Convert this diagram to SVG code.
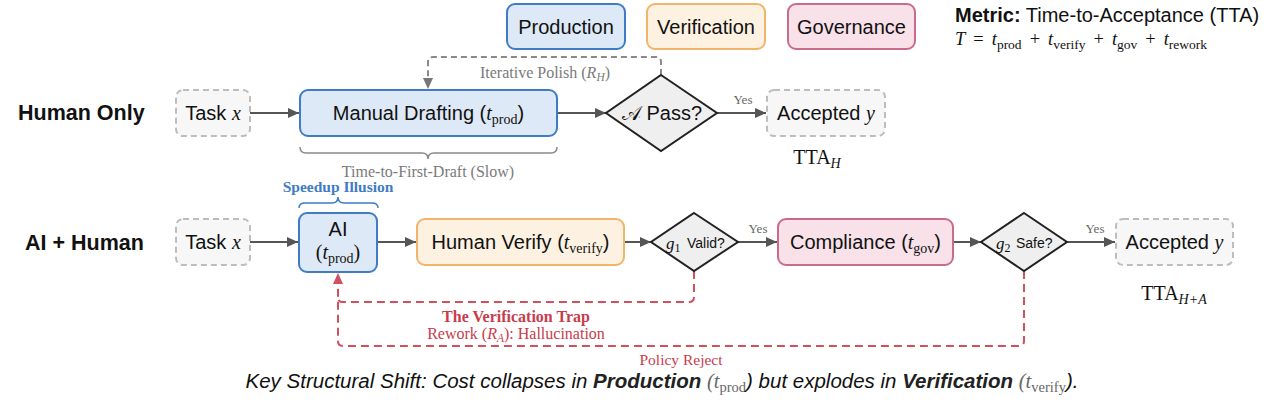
<svg xmlns="http://www.w3.org/2000/svg" width="1280" height="412" viewBox="0 0 1280 412">
<defs>
<style>
.sans{font-family:"Liberation Sans",Arial,Helvetica,sans-serif;fill:#111}
.lbl{font-size:20px}
.hdr{font-size:21.5px;font-weight:bold}
.ser{font-family:"Liberation Serif","Times New Roman",serif}
.it{font-style:italic}
.note{font-family:"Liberation Serif","Times New Roman",serif;font-size:16px;fill:#7a7a7a}
.yes{font-family:"Liberation Serif","Times New Roman",serif;font-size:13px;fill:#666}
.red{fill:#c83c4c}
.prod{fill:#dde9f6;stroke:#3f7cc4;stroke-width:2}
.ver{fill:#fdf1e2;stroke:#f0b56a;stroke-width:2}
.gov{fill:#f8e1e8;stroke:#c96b8a;stroke-width:2}
.term{fill:#f7f7f7;stroke:#bdbdbd;stroke-width:2;stroke-dasharray:6 4}
.dec{fill:#efefef;stroke:#222;stroke-width:2;stroke-linejoin:miter}
.conn{stroke:#555;stroke-width:2;fill:none}
.loopg{stroke:#8a8a8a;stroke-width:2;fill:none;stroke-dasharray:6 4}
.loopr{stroke:#d0505f;stroke-width:2;fill:none;stroke-dasharray:8 5}
</style>
<marker id="ah" markerUnits="userSpaceOnUse" markerWidth="12" markerHeight="10" refX="11" refY="5" orient="auto"><path d="M0,0 L11,5 L0,10 z" fill="#555"/></marker>
<marker id="ahg" markerUnits="userSpaceOnUse" markerWidth="12" markerHeight="10" refX="11" refY="5" orient="auto"><path d="M0,0 L11,5 L0,10 z" fill="#777"/></marker>
<marker id="ahr" markerUnits="userSpaceOnUse" markerWidth="12" markerHeight="10" refX="11" refY="5" orient="auto"><path d="M0,0 L11,5 L0,10 z" fill="#d0505f"/></marker>
</defs>
<rect width="1280" height="412" fill="#fff"/>

<!-- legend -->
<g id="legend-production"><rect class="prod" x="507" y="4" width="118" height="45" rx="8"/><text class="sans lbl" x="566" y="34" text-anchor="middle">Production</text></g>
<g id="legend-verification"><rect class="ver" x="647" y="4" width="118" height="45" rx="8"/><text class="sans lbl" x="706" y="34" text-anchor="middle">Verification</text></g>
<g id="legend-governance"><rect class="gov" x="788" y="4" width="127" height="45" rx="8"/><text class="sans lbl" x="851.5" y="34" text-anchor="middle">Governance</text></g>

<g id="metric">
<text class="sans" x="955" y="22" font-size="20"><tspan font-weight="bold">Metric:</tspan> Time-to-Acceptance (TTA)</text>
<text class="ser" x="955" y="45" font-size="18.5" fill="#111"><tspan class="it">T</tspan><tspan dx="8">=</tspan><tspan class="it" dx="8">t</tspan><tspan dy="3.5" font-size="13.5">prod</tspan><tspan dy="-3.5" dx="8">+</tspan><tspan class="it" dx="8">t</tspan><tspan dy="3.5" font-size="13.5">verify</tspan><tspan dy="-3.5" dx="8">+</tspan><tspan class="it" dx="8">t</tspan><tspan dy="3.5" font-size="13.5">gov</tspan><tspan dy="-3.5" dx="8">+</tspan><tspan class="it" dx="8">t</tspan><tspan dy="3.5" font-size="13.5">rework</tspan></text>
</g>

<!-- row labels -->
<g id="row-human"><text class="sans hdr" x="18" y="120">Human Only</text></g>
<g id="row-ai"><text class="sans hdr" x="25" y="250">AI + Human</text></g>

<!-- connectors -->
<g id="connectors">
<line class="conn" x1="250" y1="113" x2="299" y2="113" marker-end="url(#ah)"/>
<line class="conn" x1="557" y1="113" x2="606" y2="113" marker-end="url(#ah)"/>
<line class="conn" x1="717" y1="113" x2="766" y2="113" marker-end="url(#ah)"/>
<path class="loopg" d="M661,75 V62 Q661,57 656,57 H433 Q428,57 428,62 V89" marker-end="url(#ahg)"/>

<line class="conn" x1="250" y1="242" x2="298" y2="242" marker-end="url(#ah)"/>
<line class="conn" x1="377" y1="242" x2="416" y2="242" marker-end="url(#ah)"/>
<line class="conn" x1="624" y1="242" x2="651" y2="242" marker-end="url(#ah)"/>
<line class="conn" x1="738" y1="242" x2="777" y2="242" marker-end="url(#ah)"/>
<line class="conn" x1="953" y1="242" x2="981" y2="242" marker-end="url(#ah)"/>
<line class="conn" x1="1067" y1="242" x2="1115" y2="242" marker-end="url(#ah)"/>

<path class="loopr" d="M694,271 V297 Q694,302 689,302 H343 Q338,302 338,297"/>
<path class="loopr" d="M1024,271 V341 Q1024,346 1019,346 H343 Q338,346 338,341 V273" marker-end="url(#ahr)"/>
</g>

<!-- connector labels -->
<g id="labels">
<text class="note" x="545" y="78" text-anchor="middle">Iterative Polish (<tspan class="it">R</tspan><tspan class="it" dy="3" font-size="11.5">H</tspan><tspan dy="-3">)</tspan></text>
<text class="yes" x="743" y="104" text-anchor="middle">Yes</text>
<text class="yes" x="758" y="233" text-anchor="middle">Yes</text>
<text class="yes" x="1095" y="233" text-anchor="middle">Yes</text>
<path d="M300,147 Q300,153 306,153 H422 Q428,153 428,159 Q428,153 434,153 H551 Q557,153 557,147" fill="none" stroke="#8a8a8a" stroke-width="1.5"/>
<text class="note" x="428" y="177" text-anchor="middle">Time-to-First-Draft (Slow)</text>
<path d="M299,208 Q299,203 305,203 H332 Q338,203 338,197 Q338,203 344,203 H372 Q378,203 378,208" fill="none" stroke="#3f7cc4" stroke-width="1.5"/>
<text class="ser" x="338" y="192" text-anchor="middle" font-size="15.5" font-weight="bold" fill="#3f7cc4">Speedup Illusion</text>
<text class="ser red" x="516" y="322" text-anchor="middle" font-size="16" font-weight="bold">The Verification Trap</text>
<text class="ser red" x="516" y="339" text-anchor="middle" font-size="16">Rework (<tspan class="it">R</tspan><tspan class="it" dy="3" font-size="11.5">A</tspan><tspan dy="-3">): Hallucination</tspan></text>
<text class="ser red" x="681" y="365" text-anchor="middle" font-size="15.5">Policy Reject</text>
</g>

<!-- human only row -->
<g id="task-h"><rect class="term" x="176" y="90" width="74" height="46" rx="7"/><text class="sans lbl" x="213" y="120" text-anchor="middle">Task <tspan class="ser it">x</tspan></text></g>
<g id="manual-drafting"><rect class="prod" x="300" y="90" width="257" height="46" rx="8"/><text class="sans lbl" x="428.5" y="120" text-anchor="middle">Manual Drafting (<tspan class="ser it">t</tspan><tspan class="ser" dy="4" font-size="14">prod</tspan><tspan dy="-4">)</tspan></text></g>
<g id="pass-h"><polygon class="dec" points="661,75 717,113 661,151 606,113"/><text class="sans lbl" x="662" y="120" text-anchor="middle"><tspan font-family="DejaVu Serif,serif">𝒜</tspan> Pass?</text></g>
<g id="accepted-h"><rect class="term" x="767" y="90" width="118" height="46" rx="7"/><text class="sans lbl" x="826" y="120" text-anchor="middle">Accepted <tspan class="ser it">y</tspan></text></g>
<g id="tta-h"><text class="ser" x="817" y="164" text-anchor="middle" font-size="20" fill="#111">TTA<tspan class="it" dy="4" font-size="14">H</tspan></text></g>

<!-- AI + human row -->
<g id="task-a"><rect class="term" x="176" y="219" width="74" height="46" rx="7"/><text class="sans lbl" x="213" y="249" text-anchor="middle">Task <tspan class="ser it">x</tspan></text></g>
<g id="ai"><rect class="prod" x="299" y="213" width="78" height="59" rx="8"/><text class="sans lbl" x="338" y="236" text-anchor="middle">AI</text><text class="ser" x="338" y="259" text-anchor="middle" font-size="20" fill="#111">(<tspan class="it">t</tspan><tspan dy="4" font-size="14">prod</tspan><tspan dy="-4">)</tspan></text></g>
<g id="human-verify"><rect class="ver" x="417" y="219" width="207" height="46" rx="8"/><text class="sans lbl" x="520.5" y="249" text-anchor="middle">Human Verify (<tspan class="ser it">t</tspan><tspan class="ser" dy="4" font-size="14">verify</tspan><tspan dy="-4">)</tspan></text></g>
<g id="valid"><polygon class="dec" points="694,213 738,242 694,271 651,242"/><text class="ser it" x="666" y="249" font-size="17" fill="#111">g<tspan class="ser" font-style="normal" dy="3" font-size="12">1</tspan></text><text class="sans" x="687" y="248" font-size="14">Valid?</text></g>
<g id="compliance"><rect class="gov" x="778" y="219" width="175" height="46" rx="8"/><text class="sans lbl" x="865.5" y="249" text-anchor="middle">Compliance (<tspan class="ser it">t</tspan><tspan class="ser" dy="4" font-size="14">gov</tspan><tspan dy="-4">)</tspan></text></g>
<g id="safe"><polygon class="dec" points="1024,213 1067,242 1024,271 981,242"/><text class="ser it" x="996" y="249" font-size="17" fill="#111">g<tspan class="ser" font-style="normal" dy="3" font-size="12">2</tspan></text><text class="sans" x="1016" y="248" font-size="14">Safe?</text></g>
<g id="accepted-a"><rect class="term" x="1116" y="219" width="117" height="46" rx="7"/><text class="sans lbl" x="1174.5" y="249" text-anchor="middle">Accepted <tspan class="ser it">y</tspan></text></g>
<g id="tta-a"><text class="ser" x="1174" y="300" text-anchor="middle" font-size="20" fill="#111">TTA<tspan class="it" dy="4" font-size="14">H+A</tspan></text></g>

<!-- caption -->
<g id="caption"><text class="sans it" x="662" y="388" text-anchor="middle" font-size="20.5" fill="#333">Key Structural Shift: Cost collapses in <tspan font-weight="bold" fill="#222">Production</tspan> <tspan class="ser" fill="#666">(</tspan><tspan class="ser" fill="#666">t</tspan><tspan class="ser" font-style="normal" fill="#666" dy="4" font-size="14.5">prod</tspan><tspan dy="-4">) but explodes in </tspan><tspan font-weight="bold" fill="#222">Verification</tspan> <tspan class="ser" fill="#666">(</tspan><tspan class="ser" fill="#666">t</tspan><tspan class="ser" font-style="normal" fill="#666" dy="4" font-size="14.5">verify</tspan><tspan dy="-4">).</tspan></text></g>
</svg>
